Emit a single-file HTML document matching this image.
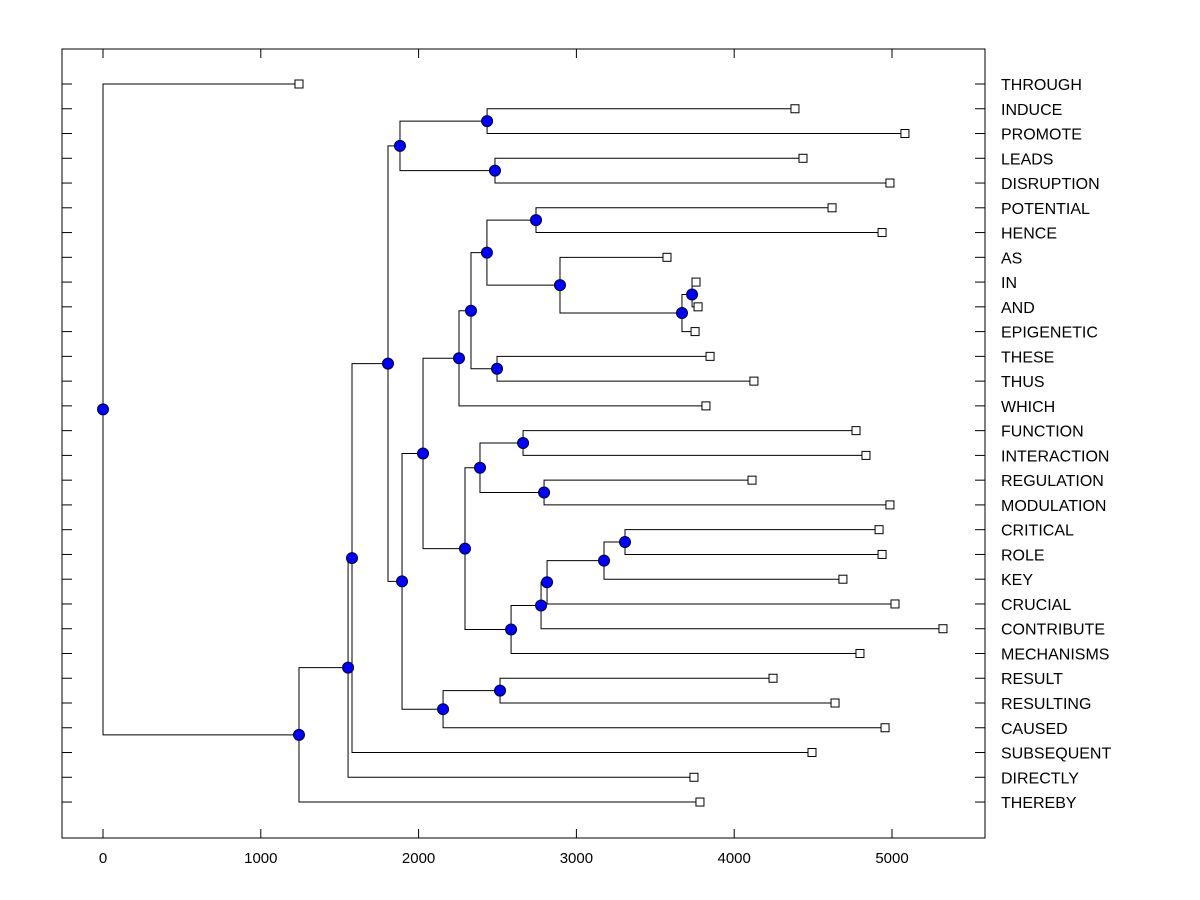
<!DOCTYPE html>
<html><head><meta charset="utf-8"><style>
html,body{margin:0;padding:0;background:#fff;}
svg{display:block;font-family:"Liberation Sans",sans-serif;}
</style></head><body>
<svg id="chart" width="1200" height="900" xmlns="http://www.w3.org/2000/svg"></svg>
<script>
// Leaf labels (top to bottom) and their heights
const leafLabels = ["THROUGH","INDUCE","PROMOTE","LEADS","DISRUPTION","POTENTIAL","HENCE","AS","IN","AND","EPIGENETIC","THESE","THUS","WHICH","FUNCTION","INTERACTION","REGULATION","MODULATION","CRITICAL","ROLE","KEY","CRUCIAL","CONTRIBUTE","MECHANISMS","RESULT","RESULTING","CAUSED","SUBSEQUENT","DIRECTLY","THEREBY"];
const leafHeights = [1242,4385,5082,4436,4987,4620,4937,3574,3758,3771,3752,3847,4125,3821,4772,4835,4113,4987,4918,4937,4689,5019,5323,4797,4246,4639,4956,4493,3745,3783];
// Merge nodes: [height, childA, childB]; children: "L<i>" leaf or "N<i>" node
const nodeHeights = [0,1242,1553,1578,1806,1882,2434,2484,1895,2028,2256,2332,2433,2744,2896,3669,3733,2497,2294,2389,2662,2795,2586,2776,2814,3175,3308,2155,2516];
const nodeChildren = [
 ["L0","N1"],["N2","L29"],["N3","L28"],["N4","L27"],["N5","N8"],["N6","N7"],["L1","L2"],["L3","L4"],
 ["N9","N27"],["N10","N18"],["N11","L13"],["N12","N17"],["N13","N14"],["L5","L6"],["L7","N15"],["N16","L10"],["L8","L9"],["L11","L12"],
 ["N19","N22"],["N20","N21"],["L14","L15"],["L16","L17"],["N23","L23"],["N24","L22"],["N25","L21"],["N26","L20"],["L18","L19"],
 ["N28","L26"],["L24","L25"]
];
const xTicks = [0,1000,2000,3000,4000,5000];

const svg = document.getElementById('chart');
const NS = "http://www.w3.org/2000/svg";
const X0 = 62, X1 = 985, Y0 = 49, Y1 = 838;
const xs = v => 103 + v * 0.15780;
const ys = i => 84 + i * 24.76;
function mk(tag, attrs){ const e=document.createElementNS(NS,tag); for(const k in attrs) e.setAttribute(k,attrs[k]); svg.appendChild(e); return e; }

// frame
const frame = mk('rect',{x:X0,y:Y0,width:X1-X0,height:Y1-Y0,fill:'none',stroke:'#000','stroke-width':1});



// x ticks
xTicks.forEach(t=>{
  const x = xs(t);
  const b = mk('line',{x1:x,y1:Y1,x2:x,y2:Y1-9,stroke:'#000'});
  
  
  const tp = mk('line',{x1:x,y1:Y0,x2:x,y2:Y0+9,stroke:'#000'});
  
  
  const tx = mk('text',{x:x,y:863,'text-anchor':'middle','font-size':15,fill:'#000'});
  tx.textContent = t;
  
  
});

// y ticks and labels
leafLabels.forEach((lab,i)=>{
  const y = ys(i);
  const l = mk('line',{x1:X0,y1:y,x2:X0+10,y2:y,stroke:'#000'});
  
  
  const r = mk('line',{x1:X1-10,y1:y,x2:X1,y2:y,stroke:'#000'});
  
  
  const tx = mk('text',{x:1001,y:y+6,'font-size':16,fill:'#000'});
  tx.textContent = lab;
  
  
});

// compute node positions
const pos = {};
function getPos(id){
  if(pos[id]) return pos[id];
  const i = +id.slice(1);
  if(id[0]==='L'){ pos[id] = {x:xs(leafHeights[i]), y:ys(i)}; }
  else {
    const [a,b] = nodeChildren[i];
    const pa=getPos(a), pb=getPos(b);
    pos[id] = {x:xs(nodeHeights[i]), y:(pa.y+pb.y)/2};
  }
  return pos[id];
}
nodeChildren.forEach((c,i)=>getPos('N'+i));

// branches
nodeChildren.forEach((c,i)=>{
  const p = pos['N'+i];
  c.forEach(ch=>{
    const q = pos[ch];
    const pl = mk('polyline',{points:`${p.x},${p.y} ${p.x},${q.y} ${q.x},${q.y}`,fill:'none',stroke:'#000','stroke-width':1});
    
    
  });
});
// leaves
leafLabels.forEach((lab,i)=>{
  const q = pos['L'+i];
  const r = mk('rect',{x:q.x-4,y:q.y-4,width:8,height:8,fill:'#fff',stroke:'#000','stroke-width':1});
  
  
});
// nodes
nodeChildren.forEach((c,i)=>{
  const p = pos['N'+i];
  const ci = mk('circle',{cx:p.x,cy:p.y,r:5.5,fill:'#0000ff',stroke:'#000033','stroke-width':1});
  
  
});
</script>
</body></html>
